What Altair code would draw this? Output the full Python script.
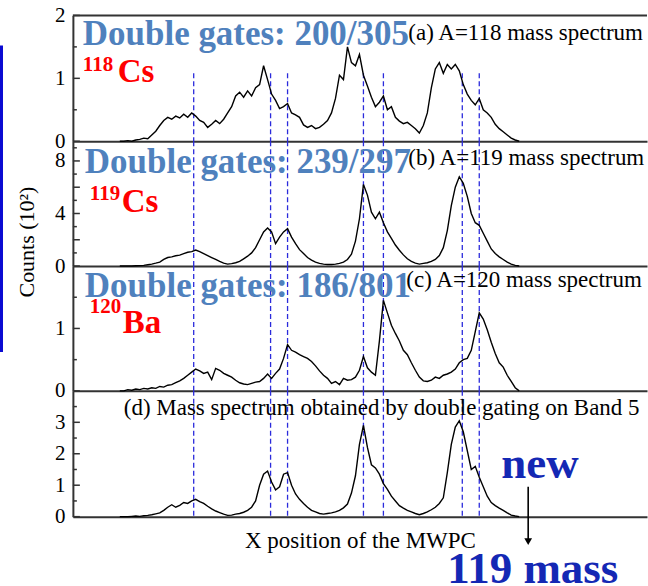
import altair as alt
import pandas as pd

# ---------------- data ----------------
CH_START = 47     # first histogram channel
CH_STEP = 4       # channel width

COUNTS_A = [0.0, 0.0, 0.01, 0.0, 0.02, 0.03, 0.05, 0.04, 0.10, 0.16,
            0.25, 0.33, 0.38, 0.35, 0.40, 0.37, 0.43, 0.38, 0.45, 0.40,
            0.33, 0.30, 0.22, 0.27, 0.33, 0.28, 0.35, 0.45, 0.55, 0.72,
            0.78, 0.70, 0.80, 0.72, 0.85, 0.90, 1.20, 0.98, 0.75, 0.65,
            0.52, 0.55, 0.60, 0.45, 0.42, 0.38, 0.26, 0.22, 0.25, 0.20,
            0.22, 0.27, 0.33, 0.45, 0.68, 1.05, 0.98, 1.50, 1.25, 1.20,
            1.38, 1.05, 0.88, 0.70, 0.55, 0.62, 0.72, 0.50, 0.55, 0.38,
            0.32, 0.28, 0.30, 0.25, 0.20, 0.13, 0.25, 0.45, 0.85, 1.15,
            1.25, 1.08, 1.22, 1.15, 1.22, 1.12, 0.90, 0.75, 0.65, 0.58,
            0.68, 0.50, 0.45, 0.38, 0.27, 0.20, 0.15, 0.10, 0.05, 0.02,
            0.0]

COUNTS_B = [0, 0, 0, 0, 0.02, 0.03, 0.05, 0.10, 0.15, 0.22,
            0.30, 0.50, 0.65, 0.70, 0.78, 0.83, 0.95, 1.05, 1.10, 1.22,
            1.10, 0.95, 0.80, 0.65, 0.50, 0.35, 0.22, 0.15, 0.18, 0.25,
            0.35, 0.55, 0.75, 1.00, 1.40, 2.00, 2.60, 2.90, 2.60, 1.70,
            2.20, 2.60, 2.85, 2.20, 1.70, 1.25, 0.95, 0.65, 0.45, 0.30,
            0.20, 0.15, 0.12, 0.12, 0.15, 0.20, 0.30, 0.50, 0.90, 1.90,
            3.60, 6.20, 5.40, 4.10, 3.60, 4.10, 3.30, 2.60, 2.10, 1.60,
            1.20, 0.85, 0.55, 0.35, 0.22, 0.15, 0.20, 0.25, 0.35, 0.50,
            0.80, 1.40, 2.70, 4.60, 6.00, 6.80, 6.30, 5.30, 4.00, 3.30,
            3.10, 2.50, 1.90, 1.30, 0.95, 0.70, 0.50, 0.30, 0.15, 0.05,
            0]

COUNTS_C = [0, 0, 0.02, 0.01, 0.03, 0.02, 0.04, 0.03, 0.05, 0.04,
            0.07, 0.06, 0.09, 0.10, 0.13, 0.16, 0.20, 0.25, 0.30, 0.35,
            0.32, 0.28, 0.30, 0.18, 0.36, 0.33, 0.28, 0.25, 0.22, 0.17,
            0.13, 0.11, 0.10, 0.12, 0.14, 0.15, 0.20, 0.27, 0.20, 0.28,
            0.35, 0.52, 0.74, 0.65, 0.62, 0.58, 0.55, 0.52, 0.47, 0.40,
            0.32, 0.25, 0.20, 0.12, 0.15, 0.10, 0.20, 0.17, 0.18, 0.22,
            0.33, 0.55, 0.37, 0.30, 0.25, 0.80, 1.45, 1.25, 1.05, 0.92,
            0.80, 0.65, 0.58, 0.45, 0.33, 0.22, 0.16, 0.15, 0.17, 0.22,
            0.20, 0.25, 0.27, 0.30, 0.35, 0.45, 0.50, 0.52, 0.65, 0.95,
            1.25, 1.15, 0.98, 0.78, 0.60, 0.45, 0.38, 0.25, 0.15, 0.05,
            0]

COUNTS_D = [0, 0, 0, 0.01, 0.02, 0.01, 0.03, 0.04, 0.06, 0.09,
            0.12, 0.20, 0.30, 0.38, 0.30, 0.36, 0.45, 0.42, 0.50, 0.55,
            0.48, 0.42, 0.33, 0.25, 0.18, 0.13, 0.08, 0.04, 0.05, 0.08,
            0.10, 0.14, 0.20, 0.30, 0.50, 1.00, 1.35, 1.45, 1.10, 0.85,
            0.95, 1.35, 1.40, 1.00, 0.72, 0.55, 0.42, 0.30, 0.20, 0.15,
            0.10, 0.08, 0.10, 0.12, 0.15, 0.20, 0.28, 0.40, 0.75, 1.30,
            2.30, 2.90, 2.20, 1.65, 1.55, 1.35, 1.05, 0.87, 0.65, 0.50,
            0.35, 0.27, 0.20, 0.15, 0.10, 0.06, 0.10, 0.15, 0.22, 0.30,
            0.42, 0.60, 1.40, 2.30, 2.85, 3.05, 2.70, 2.10, 1.50, 1.60,
            1.25, 0.95, 0.65, 0.45, 0.35, 0.27, 0.20, 0.12, 0.05, 0.02,
            0]

GATE_CHANNELS = [121, 198, 215, 291, 311, 390, 407]

Y_DOMAINS = [[0, 2], [0, 9.5], [0, 2], [0, 4]]
Y_MAJOR = [[0, 1, 2], [0, 2, 4, 6, 8], [0, 1], [0, 1, 2, 3]]
Y_MINOR = [[0.5, 1.5], [1, 3, 5, 7, 9], [0.5, 1.5], [0.5, 1.5, 2.5, 3.5]]

PANEL_LABELS = ["(a) A=118 mass spectrum", "(b) A=119 mass spectrum",
                "(c) A=120 mass spectrum",
                "(d) Mass spectrum obtained by double gating on Band 5"]
GATE_TEXTS = ["Double gates: 200/305", "Double gates: 239/297",
              "Double gates: 186/801"]
MASS_NUMBERS = ["118", "119", "120"]
ELEMENTS = ["Cs", "Cs", "Ba"]

Y_TITLE = "Counts (10\u00b2)"
X_TITLE = "X position of the MWPC"
NOTE_TOP = "new"
NOTE_BOTTOM = "119 mass"

# ---------------- style ----------------
SERIF = "Liberation Serif, Times New Roman, Times, serif"
W = 575
HEIGHTS = [126, 125, 125, 126]
AXIS_COLOR = "#333333"
GATE_COLOR = "#2b2bdc"
BLUE_TXT = "#4f81bd"
NAVY = "#1428b4"

# text placement (pixels inside each panel)
LABEL_POS = [(336, 25), (336, 24), (334, 21), (51, 24)]
GATE_POS = [(10, 30), (12, 32), (12, 31)]
SUP_POS = [(10, 56), (17, 59), (17, 47)]
ELEM_POS = [(45, 67), (49, 71), (50, 67)]

xscale = alt.Scale(domain=[0, W], nice=False, zero=False)


def text_layer(s, x, y, size, color="black", weight="normal", angle=None,
               align="left", baseline="alphabetic"):
    kw = dict(font=SERIF, fontSize=size, color=color, fontWeight=weight,
              align=align, baseline=baseline)
    if angle is not None:
        kw["angle"] = angle
    return alt.Chart(pd.DataFrame({"t": [s]})).mark_text(**kw).encode(
        text="t:N", x=alt.value(x), y=alt.value(y))


def panel(i, counts):
    h = HEIGHTS[i]
    yscale = alt.Scale(domain=Y_DOMAINS[i], nice=False, zero=True)
    last = i == 3
    xaxis = alt.Axis(labels=False, ticks=False, grid=False,
                     domainColor=AXIS_COLOR, domainWidth=2,
                     title=X_TITLE if last else None,
                     titleFont=SERIF, titleFontSize=23, titleFontWeight="normal",
                     titleColor="black", titlePadding=13)
    yaxis = alt.Axis(values=Y_MAJOR[i], format="~g", ticks=False, grid=False,
                     title=None, labelFont=SERIF, labelFontSize=21,
                     labelColor="black", labelPadding=8, labelFlush=False,
                     labelOverlap=False, domainColor=AXIS_COLOR, domainWidth=2)
    df = pd.DataFrame({"ch": [CH_START + CH_STEP * k for k in range(len(counts))],
                       "c": counts})
    line = alt.Chart(df).mark_line(interpolate="linear", color="black",
                                   strokeWidth=1.4).encode(
        x=alt.X("ch:Q", scale=xscale, axis=xaxis),
        y=alt.Y("c:Q", scale=yscale, axis=yaxis))

    gates = alt.Chart(pd.DataFrame({"ch": GATE_CHANNELS})).mark_rule(
        color=GATE_COLOR, strokeWidth=1.3, strokeDash=[5, 3]).encode(
        x=alt.X("ch:Q", scale=xscale),
        y=alt.value(58 if i == 0 else 0), y2=alt.value(h))

    major = alt.Chart(pd.DataFrame({"c": Y_MAJOR[i]})).mark_rule(
        color=AXIS_COLOR, strokeWidth=1.5).encode(
        y=alt.Y("c:Q", scale=yscale), x=alt.value(0), x2=alt.value(7))
    minor = alt.Chart(pd.DataFrame({"c": Y_MINOR[i]})).mark_rule(
        color=AXIS_COLOR, strokeWidth=1.5).encode(
        y=alt.Y("c:Q", scale=yscale), x=alt.value(0), x2=alt.value(4))

    layers = [gates, line, major, minor]
    lx, ly = LABEL_POS[i]
    layers.append(text_layer(PANEL_LABELS[i], lx, ly, 23))
    if i < 3:
        gx, gy = GATE_POS[i]
        layers.append(text_layer(GATE_TEXTS[i], gx, gy, 35, BLUE_TXT, "bold"))
        sx, sy = SUP_POS[i]
        layers.append(text_layer(MASS_NUMBERS[i], sx, sy, 21, "#ff0000", "bold"))
        ex, ey = ELEM_POS[i]
        layers.append(text_layer(ELEMENTS[i], ex, ey, 33, "#ff0000", "bold"))
    if i == 0:
        top = alt.Chart(pd.DataFrame({"c": [0]})).mark_rule(
            color=AXIS_COLOR, strokeWidth=2).encode(
            y=alt.value(0), x=alt.value(0), x2=alt.value(W))
        side = alt.Chart(pd.DataFrame({"c": [0]})).mark_rect(
            color="#0a0ad2").encode(
            x=alt.value(-73), x2=alt.value(-70), y=alt.value(30), y2=alt.value(337))
        corner = alt.Chart(pd.DataFrame({"c": [0]})).mark_rect(
            opacity=0).encode(
            x=alt.value(-73), x2=alt.value(-72), y=alt.value(-15), y2=alt.value(-14))
        layers += [top, side, corner]
    if i == 1:
        layers.append(text_layer(Y_TITLE, -46, 101, 22, angle=270,
                                 align="center", baseline="middle"))
    if i == 3:
        layers.append(text_layer(NOTE_TOP, 429, 87, 45, NAVY, "bold"))
        arrow = alt.Chart(pd.DataFrame({"c": [0]})).mark_rule(
            color="black", strokeWidth=1.6).encode(
            x=alt.value(456), y=alt.value(96), y2=alt.value(150))
        head = alt.Chart(pd.DataFrame({"c": [0]})).mark_point(
            shape="triangle-down", filled=True, color="black", size=60,
            opacity=1).encode(x=alt.value(456), y=alt.value(151))
        layers += [arrow, head]
        layers.append(text_layer(NOTE_BOTTOM, 375, 192, 45, NAVY, "bold"))
    return alt.layer(*layers).properties(width=W, height=h)


charts = [panel(i, c) for i, c in enumerate([COUNTS_A, COUNTS_B, COUNTS_C, COUNTS_D])]

chart = alt.vconcat(*charts, spacing=0, bounds="flush").properties(
    padding=0, background="white"
).configure_view(stroke=None)

chart.save("out.html", embed_options={"renderer": "svg", "actions": False})
